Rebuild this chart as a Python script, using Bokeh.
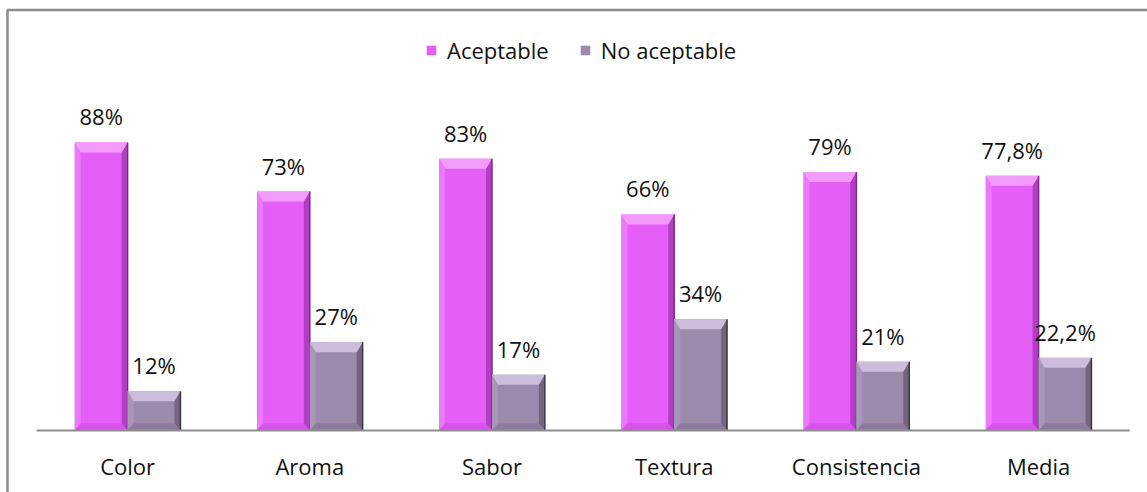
from bokeh.plotting import figure
from bokeh.models import Range1d, Legend, LegendItem, ColumnDataSource
from bokeh.embed import file_html
from bokeh.resources import INLINE
from bokeh.core.properties import value

# ---------------- data ----------------
categories = ["Color", "Aroma", "Sabor", "Textura", "Consistencia", "Media"]
series_names = ["Aceptable", "No aceptable"]
aceptable = [88, 73, 83, 66, 79, 77.8]
no_aceptable = [12, 27, 17, 34, 21, 22.2]
aceptable_labels = ["88%", "73%", "83%", "66%", "79%", "77,8%"]
no_aceptable_labels = ["12%", "27%", "17%", "34%", "21%", "22,2%"]

# ---------------- layout constants ----------------
W, H = 1147, 492
X0PX = 36.0      # pixel of category axis start
CATPX = 182.2    # pixels per category
BASEPX = 430.0   # pixel row of the baseline
YPX = 3.273      # pixels per percent
FONT = "Open Sans"
FS = "22px"
BW = 0.29
OFF = 0.145

x_range = Range1d(-X0PX / CATPX, (W - X0PX) / CATPX)
y_range = Range1d(-(H - BASEPX) / YPX, BASEPX / YPX)

p = figure(width=W, height=H, x_range=x_range, y_range=y_range,
           output_backend="svg", toolbar_location=None,
           x_axis_location=None, y_axis_location=None, min_border=0)
p.grid.visible = False
p.outline_line_color = None
p.background_fill_color = "white"
p.border_fill_color = "white"

# chart border (left + top visible)
bxl = (7 - X0PX) / CATPX
byt = (BASEPX - 9.5) / YPX
p.line(x=[bxl, bxl, x_range.end + 1], y=[y_range.start - 5, byt, byt],
       line_color="#8c8c8c", line_width=2.5)

styles = [
    dict(main="#E55EF8", top="#F39BFB", left="#EC78FA", right="#B13FC2", bottom="#D653EA", edge="#7E2A8C"),
    dict(main="#9C8AAD", top="#CBBDDB", left="#A797B8", right="#74657F", bottom="#8C7B9D", edge="#3E3548"),
]

bx = 6.0 / CATPX
by_top = 10.0 / YPX
by_bot = 7.0 / YPX

main_renderers = []
for s, (vals, labels, off) in enumerate([(aceptable, aceptable_labels, -OFF),
                                          (no_aceptable, no_aceptable_labels, OFF)]):
    st = styles[s]
    xs = [i + 0.5 + off for i in range(len(categories))]
    src = ColumnDataSource(dict(x=xs, top=vals, lab=labels))
    r = p.vbar(x="x", top="top", width=BW, bottom=0, source=src,
               fill_color=st["main"], line_color=None)
    main_renderers.append(r)
    top_x, top_y, lx, ly, rx, ry, bxs, bys = [], [], [], [], [], [], [], []
    for x, v in zip(xs, vals):
        l, rr = x - BW / 2, x + BW / 2
        top_x.append([l, rr, rr - bx, l + bx]); top_y.append([v, v, v - by_top, v - by_top])
        lx.append([l, l + bx, l + bx, l]); ly.append([v, v - by_top, by_bot, 0])
        rx.append([rr, rr, rr - bx, rr - bx]); ry.append([v, 0, by_bot, v - by_top])
        bxs.append([l, rr, rr - bx, l + bx]); bys.append([0, 0, by_bot, by_bot])
    p.patches(xs=lx, ys=ly, fill_color=st["left"], line_color=None)
    p.patches(xs=rx, ys=ry, fill_color=st["right"], line_color=None)
    p.patches(xs=bxs, ys=bys, fill_color=st["bottom"], line_color=None)
    p.patches(xs=top_x, ys=top_y, fill_color=st["top"], line_color=None)
    p.segment(x0=[x + BW / 2 for x in xs], y0=[0] * len(xs),
              x1=[x + BW / 2 for x in xs], y1=vals,
              line_color=st["edge"], line_width=1.5)
    p.text(x="x", y="top", text="lab", source=src, y_offset=-26,
           text_align="center", text_baseline="alphabetic",
           text_font=value(FONT), text_font_size=FS, text_color="#111111")

# baseline axis
p.segment(x0=[0], y0=[0], x1=[len(categories)], y1=[0],
          line_color="#8e8e8e", line_width=2)

# category labels
p.text(x=[i + 0.5 for i in range(len(categories))], y=[0] * len(categories),
       text=categories, y_offset=35, text_align="center", text_baseline="alphabetic",
       text_font=value(FONT), text_font_size=FS, text_color="#111111")

legend = Legend(items=[LegendItem(label=series_names[0], renderers=[main_renderers[0]]),
                       LegendItem(label=series_names[1], renderers=[main_renderers[1]])],
                orientation="horizontal", location=(425, 427),
                border_line_color=None, background_fill_alpha=0,
                padding=0, margin=0, spacing=30, label_standoff=10,
                glyph_width=12, glyph_height=12,
                label_text_font=FONT, label_text_font_size=FS,
                label_text_color="#111111")
p.add_layout(legend)

open("out.html", "w").write(file_html(p, INLINE))
